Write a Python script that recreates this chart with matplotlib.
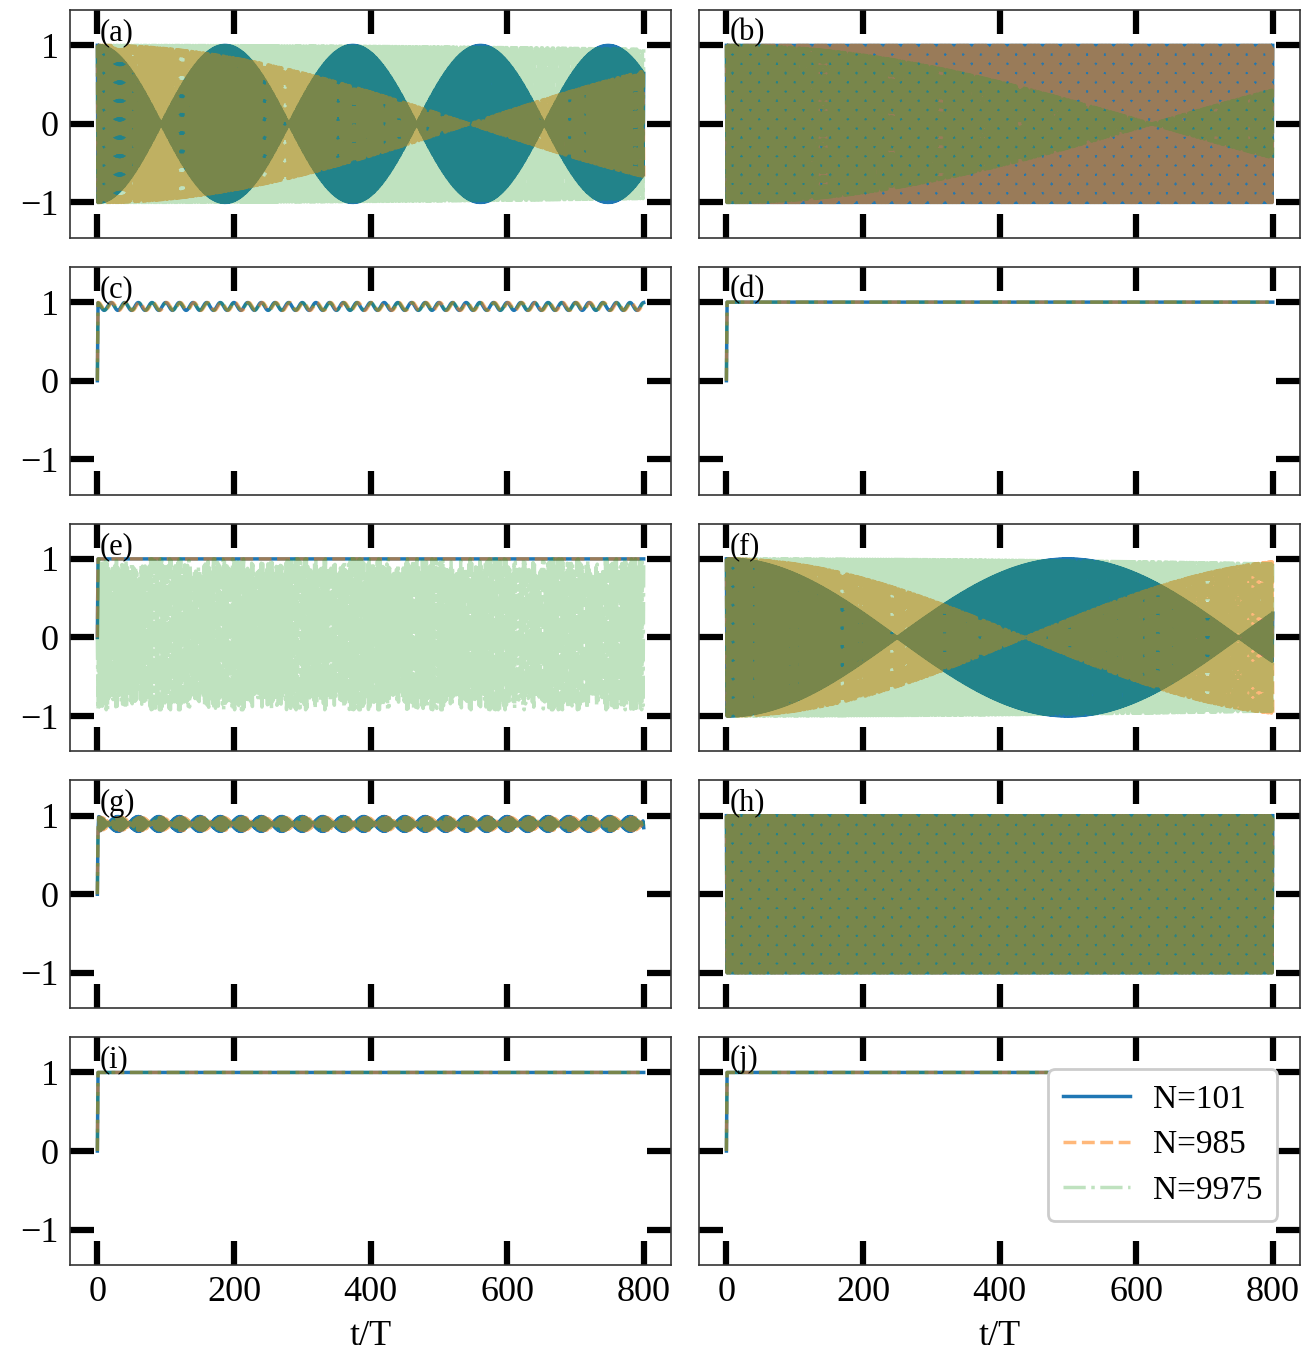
import numpy as np
import matplotlib
matplotlib.use("Agg")
import matplotlib.pyplot as plt

plt.rcParams['font.family'] = ['Liberation Serif', 'DejaVu Serif']
plt.rcParams['mathtext.fontset'] = 'stix'

# stroboscopic time axis, one sample per drive period
t = np.arange(0, 801)

sizes = ['N=101', 'N=985', 'N=9975']
colors = ['#1f77b4', '#ff7f0e', '#2ca02c']
styles = ['-', '--', '-.']
alphas = [1.0, 0.55, 0.3]

# period-doubled panels: beat period of the envelope |cos(pi t / P)| per N
# (np.inf means no visible decay)
beat_a = [187, 1090, 7900]
beat_b = [np.inf, np.inf, 1246]
beat_f = [500, 874, 7000]
beat_h = [np.inf, np.inf, np.inf]

# locked panels: mean level, wiggle amplitude, wiggle period, phase shift
wiggle_c = [(0.945, 0.05, 20.0, 0.0), (0.945, 0.05, 20.0, 1.6), (0.945, 0.045, 20.0, 0.8)]
beads_g = [(0.895, 0.095, 30.0, 0.0), (0.895, 0.085, 30.0, 4.0), (0.895, 0.08, 30.0, 2.0)]
# panel (e): the largest system loses the lock, the others stay at 1
noisy_e = dict(offset=0.04, amp=0.87, mods=[(0.05, 97.0), (0.07, 13.3), (0.05, 7.1), (0.04, 41.7)])


def period_doubled(P):
    env = np.ones_like(t, dtype=float) if np.isinf(P) else np.cos(np.pi * t / P)
    return (-1.0) ** t * env


def locked(level=1.0, amp=0.0, period=1.0, phase=0.0):
    y = level + amp * np.cos(2 * np.pi * (t - phase) / period)
    y[0] = 0.0
    return y


def beads(level, amp, period, phase):
    y = level + amp * (-1.0) ** t * np.cos(np.pi * (t - phase) / period)
    y[0] = 0.0
    return y


def unlocked(offset, amp, mods):
    a = amp + sum(m * np.cos(2 * np.pi * t / p) for m, p in mods)
    y = offset + (-1.0) ** t * np.clip(a, 0, 0.96)
    y[0] = 0.0
    return y


panels = {
    'a': [period_doubled(P) for P in beat_a],
    'b': [period_doubled(P) for P in beat_b],
    'c': [locked(*p) for p in wiggle_c],
    'd': [locked() for _ in sizes],
    'e': [locked(), locked(), unlocked(**noisy_e)],
    'f': [period_doubled(P) for P in beat_f],
    'g': [beads(*p) for p in beads_g],
    'h': [period_doubled(P) for P in beat_h],
    'i': [locked() for _ in sizes],
    'j': [locked() for _ in sizes],
}

fig, axes = plt.subplots(5, 2, figsize=(13.14, 13.51), dpi=100)
plt.subplots_adjust(left=0.0533, right=0.9894, top=0.9926, bottom=0.0637,
                    wspace=0.0467, hspace=0.127)

for ax, (tag, series) in zip(axes.flat, panels.items()):
    for y, lab, c, ls, al in zip(series, sizes, colors, styles, alphas):
        ax.plot(t, y, color=c, ls=ls, alpha=al, lw=2.5, label=lab)
    ax.set_xlim(-40, 840)
    ax.set_ylim(-1.45, 1.45)
    ax.set_xticks([0, 200, 400, 600, 800])
    ax.set_yticks([-1, 0, 1])
    ax.tick_params(direction='in', length=17, width=4.5, top=True, right=True,
                   labelsize=26, pad=8)
    for sp in ax.spines.values():
        sp.set_linewidth(1.2)
        sp.set_color('#333333')
    ax.text(0.05, 0.9, '(%s)' % tag, transform=ax.transAxes, fontsize=22,
            va='center', ha='left')

for ax in axes[:, 1]:
    ax.tick_params(labelleft=False)
for ax in axes[:-1, :].flat:
    ax.tick_params(labelbottom=False)
for ax in axes[-1, :]:
    ax.set_xlabel('t/T', fontsize=26, labelpad=8)

leg = axes[-1, 1].legend(loc='lower right', bbox_to_anchor=(0.99, 0.12),
                         fontsize=24, handlelength=2.0, handletextpad=0.7,
                         framealpha=1, edgecolor='#cccccc', borderpad=0.45,
                         labelspacing=0.45)
leg.get_frame().set_linewidth(2)

plt.savefig('out.png', dpi=100)
